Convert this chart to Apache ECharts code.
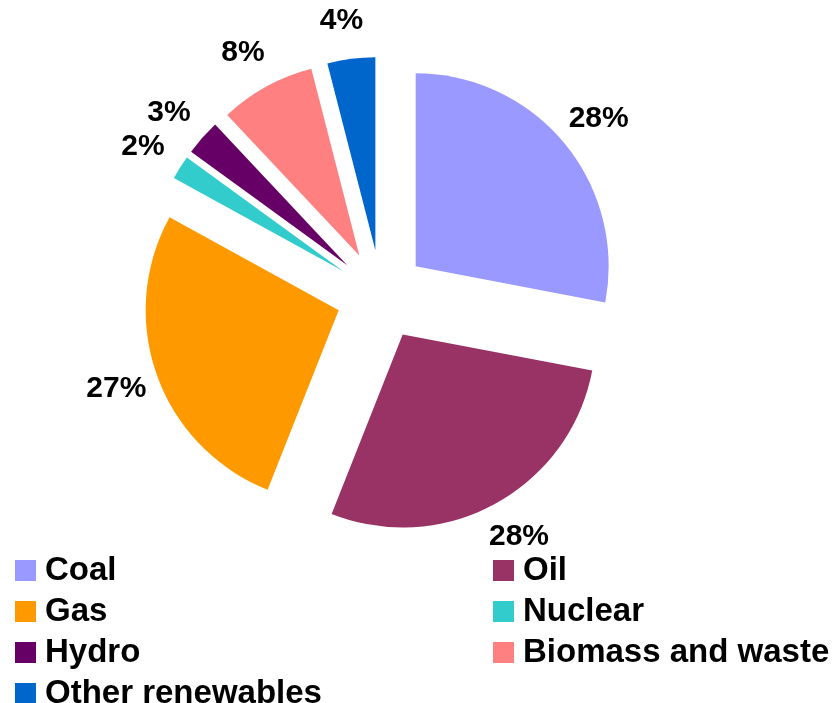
<!DOCTYPE html>
<html>
<head>
<meta charset="utf-8">
<script src="https://cdn.jsdelivr.net/npm/echarts@6/dist/echarts.min.js"></script>
<style>
html,body{margin:0;padding:0;background:#fff;}
#chart{width:833px;height:703px;}
</style>
</head>
<body>
<div id="chart"></div>
<script>
const categories = ['Coal', 'Oil', 'Gas', 'Nuclear', 'Hydro', 'Biomass and waste', 'Other renewables'];
const values = [28, 28, 27, 2, 3, 8, 4];
const colors = ['#9999FF', '#993366', '#FF9900', '#33CCCC', '#660066', '#FF8080', '#0066CC'];
const legendLeft = ['Coal', 'Gas', 'Hydro', 'Other renewables'];
const legendRight = ['Oil', 'Nuclear', 'Biomass and waste'];

const chart = echarts.init(document.getElementById('chart'));
const FONT = '"Liberation Sans", Arial, sans-serif';

const legendCommon = {
  orient: 'vertical',
  top: 549,
  height: 160,
  itemWidth: 21,
  itemHeight: 21,
  itemGap: 8,
  icon: 'rect',
  selectedMode: false,
  textStyle: {
    fontFamily: FONT,
    fontWeight: 'bold',
    fontSize: 33,
    color: '#000',
    lineHeight: 32,
    padding: [0, 0, 0, 4]
  }
};

chart.setOption({
  animation: false,
  color: colors,
  legend: [
    Object.assign({}, legendCommon, { left: 10, data: legendLeft }),
    Object.assign({}, legendCommon, { left: 488, data: legendRight })
  ],
  series: [{
    type: 'pie',
    center: [381, 295],
    radius: [0, 193],
    startAngle: 90,
    clockwise: true,
    selectedMode: 'multiple',
    selectedOffset: 45,
    avoidLabelOverlap: false,
    emphasis: { disabled: true },
    itemStyle: { borderWidth: 0 },
    label: {
      show: true,
      position: 'outside',
      formatter: p => Math.round(p.value) + '%',
      fontFamily: FONT,
      fontWeight: 'bold',
      fontSize: 30,
      color: '#000'
    },
    labelLine: {
      show: true,
      length: 38,
      length2: 0,
      lineStyle: { opacity: 0, width: 0 }
    },
    labelLayout: function () {
      return { align: 'center', verticalAlign: 'middle', hideOverlap: false };
    },
    data: categories.map((name, i) => ({ name: name, value: values[i], selected: true }))
  }]
});
</script>
</body>
</html>
